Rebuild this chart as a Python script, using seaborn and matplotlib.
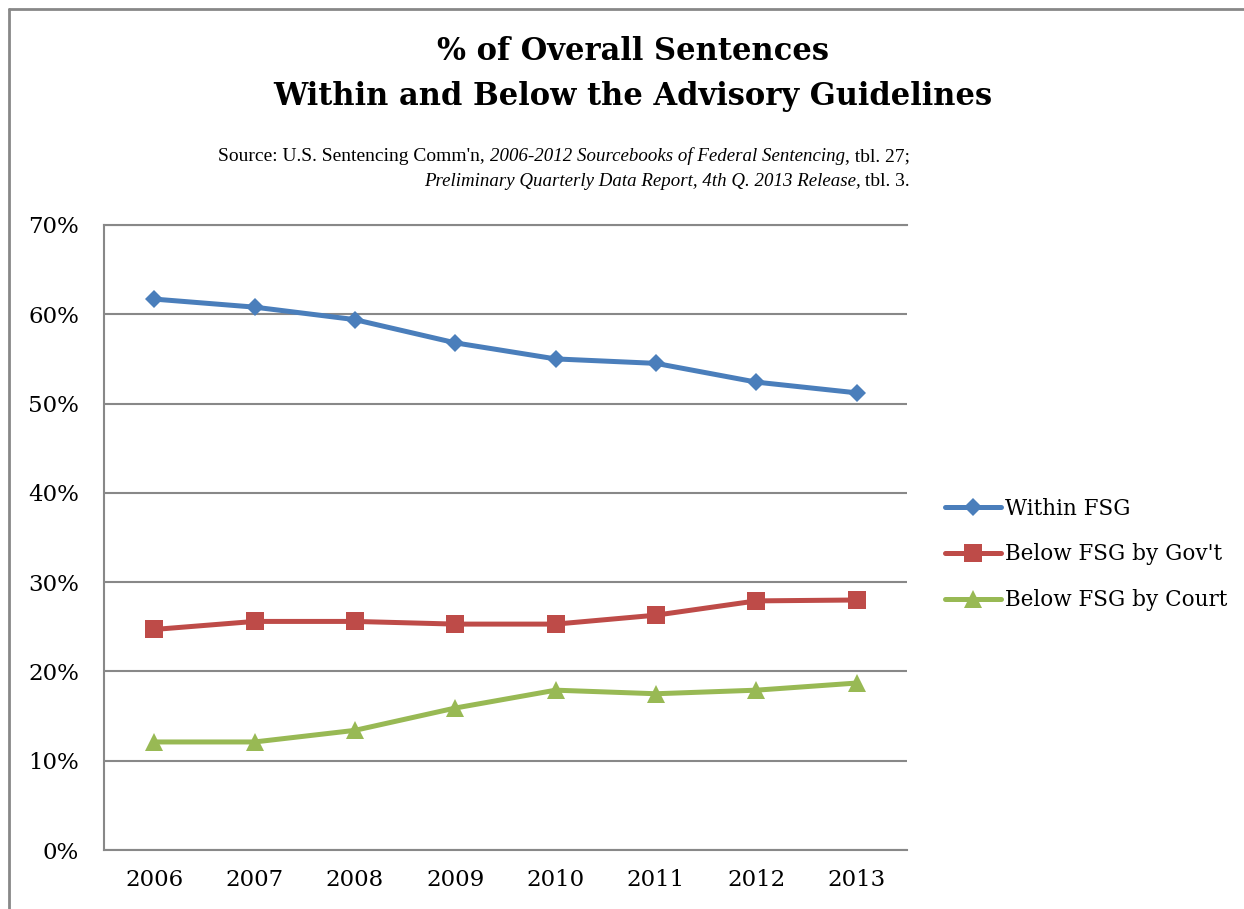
import pandas as pd
import numpy as np
import seaborn as sns
import matplotlib.pyplot as plt
from matplotlib.lines import Line2D

years = ["2006", "2007", "2008", "2009", "2010", "2011", "2012", "2013"]
within_fsg = [61.7, 60.8, 59.4, 56.8, 55.0, 54.5, 52.4, 51.2]
below_gov = [24.7, 25.6, 25.6, 25.3, 25.3, 26.3, 27.9, 28.0]
below_court = [12.1, 12.1, 13.4, 15.9, 17.9, 17.5, 17.9, 18.7]
series_names = ["Within FSG", "Below FSG by Gov't", "Below FSG by Court"]
yticks = [0, 10, 20, 30, 40, 50, 60, 70]

df = pd.DataFrame({
    "year": years * 3,
    "pct": within_fsg + below_gov + below_court,
    "series": [series_names[0]] * 8 + [series_names[1]] * 8 + [series_names[2]] * 8,
})

sns.set_style("white")
plt.rcParams["font.family"] = ["DejaVu Serif"]
plt.rcParams["text.color"] = "black"
plt.rcParams["xtick.color"] = "black"
plt.rcParams["ytick.color"] = "black"

colors = {series_names[0]: "#4A7EBB", series_names[1]: "#BE4B48", series_names[2]: "#98B954"}
markers = {series_names[0]: "D", series_names[1]: "s", series_names[2]: "^"}
msizes = {series_names[0]: 9.5, series_names[1]: 13, series_names[2]: 13}

fig = plt.figure(figsize=(12.44, 9.09), dpi=100)
ax = fig.add_axes([0.0836, 0.0649, 0.6454, 0.6876])

for name in series_names:
    sub = df[df["series"] == name]
    sns.lineplot(data=sub, x="year", y="pct", ax=ax, color=colors[name],
                 linewidth=3.6, marker=markers[name], markersize=msizes[name],
                 markeredgewidth=0, sort=False, label=name, legend=False)

ax.set_xlim(-0.5, 7.5)
ax.set_ylim(0, 70)
ax.set_yticks(yticks)
ax.set_yticklabels([f"{v}%" for v in yticks])
ax.set_xlabel("")
ax.set_ylabel("")
ax.tick_params(axis="both", length=0, labelsize=16.5)
ax.tick_params(axis="y", pad=18)
ax.tick_params(axis="x", pad=14)
ax.yaxis.grid(True, color="#888888", linewidth=1.5)
ax.set_axisbelow(True)
for side in ["left", "bottom", "top"]:
    ax.spines[side].set_color("#888888")
    ax.spines[side].set_linewidth(1.5)
ax.spines["right"].set_visible(False)

handles = [Line2D([0], [0], color=colors[n], lw=3.6, marker=markers[n],
                  markersize=msizes[n] * 0.95, markeredgewidth=0) for n in series_names]
fig.legend(handles, series_names, loc="center left", bbox_to_anchor=(0.76, 0.39),
           frameon=False, fontsize=15.5, handlelength=2.6, handletextpad=0.15,
           labelspacing=1.1, borderaxespad=0, borderpad=0)

fig.text(0.509, 0.943, "% of Overall Sentences", ha="center", va="center",
         fontsize=22, fontweight="bold")
fig.text(0.509, 0.894, "Within and Below the Advisory Guidelines", ha="center",
         va="center", fontsize=22, fontweight="bold")

# source lines with mixed italics, right-aligned like the original
src_font = "Liberation Serif"
fs_it = 13.6
fs_reg = 14.0
line1 = [("Source: U.S. Sentencing Comm'n, ", "normal"),
         ("2006-2012 Sourcebooks of Federal Sentencing", "italic"),
         (", tbl. 27;", "normal")]
line2 = [("Preliminary Quarterly Data Report, 4th Q. 2013 Release,", "italic"),
         (" tbl. 3.", "normal")]

fig.canvas.draw()
r = fig.canvas.get_renderer()


def place_line(parts, x_right, y):
    texts = []
    x = 0.0
    for s, st in parts:
        fs = fs_it if st == "italic" else fs_reg
        t = fig.text(x, y, s, ha="left", va="center", fontsize=fs, style=st, family=src_font)
        x += t.get_window_extent(r).width / fig.bbox.width
        texts.append(t)
    shift = x_right / 1244 - x
    for t in texts:
        px, py = t.get_position()
        t.set_position((px + shift, py))


place_line(line1, 910, 0.828)
place_line(line2, 910, 0.800)

# outer chart frame (left and top edges visible)
fig.add_artist(Line2D([9 / 1244, 9 / 1244], [0, 1 - 9 / 909], color="#888888", lw=2,
                      transform=fig.transFigure))
fig.add_artist(Line2D([9 / 1244, 1], [1 - 9 / 909, 1 - 9 / 909], color="#888888", lw=2,
                      transform=fig.transFigure))

fig.savefig("out.png", dpi=100)
